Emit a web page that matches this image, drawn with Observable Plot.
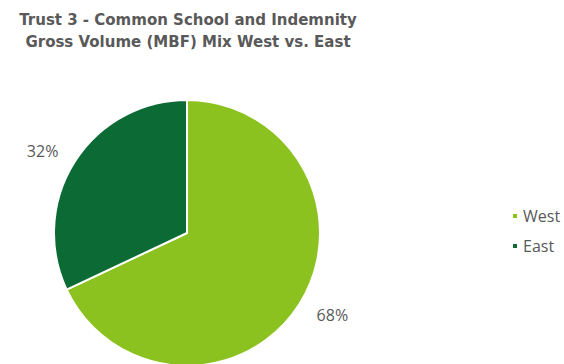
<!DOCTYPE html>
<html>
<head>
<meta charset="utf-8">
<script src="https://cdn.jsdelivr.net/npm/d3@7"></script>
<script src="https://cdn.jsdelivr.net/npm/@observablehq/plot@0.6"></script>
<style>
  html, body { margin: 0; padding: 0; background: #fff; }
  #wrap { position: relative; width: 564px; height: 364px; overflow: hidden; }
  #title { position: absolute; left: 0; top: 9px; width: 376px; text-align: center;
    font-family: "DejaVu Sans", Verdana, sans-serif; font-weight: bold; font-size: 15px;
    line-height: 22px; color: #595959; }
  #legend { position: absolute; left: 513px; top: 201px;
    font-family: "Open Sans", sans-serif; font-size: 16px; color: #595959; }
  #legend .item { display: flex; align-items: center; height: 30px; }
  #legend .sw { width: 4px; height: 4px; margin-right: 6px; }
  #chart { position: absolute; left: 0; top: 0; }
</style>
</head>
<body>
<div id="wrap">
  <div id="chart"></div>
  <div id="title"></div>
  <div id="legend"></div>
</div>
<script>
const titleLines = ["Trust 3 - Common School and Indemnity", "Gross Volume (MBF) Mix West vs. East"];
const categories = ["West", "East"];
const shares = [68, 32];
const labels = ["68%", "32%"];
const colors = ["#8cc21f", "#0c6b35"];

const data = categories.map((c, i) => ({name: c, value: shares[i], label: labels[i]}));
const pie = d3.pie().value(d => d.value).sort(null)(data);
const slices = pie.map(p => ({...p.data, startAngle: p.startAngle, endAngle: p.endAngle, mid: (p.startAngle + p.endAngle) / 2}));

const R = 133, cx = 187, cy = 233;

const chart = Plot.plot({
  width: 564,
  height: 364,
  margin: 0,
  style: {background: "transparent", overflow: "visible"},
  x: {domain: [-1, 1], range: [cx - R, cx + R], axis: null},
  y: {domain: [-1, 1], range: [cy + R, cy - R], axis: null},
  color: {domain: categories, range: colors},
  marks: [
    Plot.dot(slices, {
      x: () => 0,
      y: () => 0,
      fill: "name",
      render(index, scales, values) {
        const g = d3.create("svg:g");
        const x0 = scales.x(0), y0 = scales.y(0), r = scales.x(1) - scales.x(0);
        const arc = d3.arc().innerRadius(0).outerRadius(r);
        for (const i of index) {
          g.append("path")
            .attr("transform", `translate(${x0},${y0})`)
            .attr("d", arc(slices[i]))
            .attr("fill", values.fill[i])
            .attr("stroke", "white")
            .attr("stroke-width", 2)
            .attr("stroke-linejoin", "round");
        }
        return g.node();
      }
    }),
    Plot.text(slices, {
      x: d => 1.29 * Math.sin(d.mid),
      y: d => 1.15 * Math.cos(d.mid),
      text: "label",
      fill: "#595959",
      fontSize: 16,
      fontFamily: "Open Sans, sans-serif"
    })
  ]
});
document.getElementById("chart").appendChild(chart);

d3.select("#title").selectAll("div").data(titleLines).join("div").text(d => d);

const leg = d3.select("#legend").selectAll("div").data(categories).join("div").attr("class", "item");
leg.append("div").attr("class", "sw").style("background", (d, i) => colors[i]);
leg.append("span").text(d => d);
</script>
</body>
</html>
